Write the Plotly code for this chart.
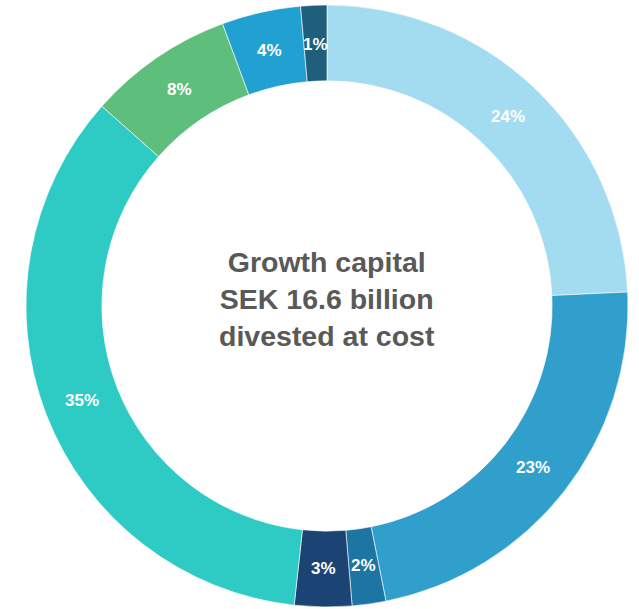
import math
import plotly.graph_objects as go

labels = ["Segment A", "Segment B", "Segment C", "Segment D", "Segment E", "Segment F", "Segment G", "Segment H"]
values = [24.26, 22.60, 1.81, 3.07, 34.81, 7.81, 4.24, 1.40]
colors = ["#a3dcf0", "#309fcb", "#1d75a4", "#1b4373", "#2ecbc5", "#5ebf7d", "#21a1d1", "#1f5f7b"]
center_text = "Growth capital<br>SEK 16.6 billion<br>divested at cost"

W, H = 639, 609
cx, cy_top, R = 327, 306, 301
hole = 0.748
cy = H - cy_top

fig = go.Figure(go.Pie(
    labels=labels,
    values=values,
    hole=hole,
    sort=False,
    direction="clockwise",
    rotation=0,
    marker=dict(colors=colors, line=dict(color="white", width=0.6)),
    textinfo="none",
    hoverinfo="label+percent",
    domain=dict(x=[(cx - R) / W, (cx + R) / W], y=[(cy - R) / H, (cy + R) / H]),
    showlegend=False,
))

# percentage labels at the middle of each ring segment
total = sum(values)
r_mid = R * (1 + hole) / 2 - 1
cum = 0
for v in values:
    ang = 2 * math.pi * (cum + v / 2) / total
    cum += v
    fig.add_annotation(
        x=(cx + r_mid * math.sin(ang)) / W,
        y=(cy + r_mid * math.cos(ang)) / H,
        xref="paper", yref="paper",
        xanchor="center", yanchor="middle",
        text="<b>%.0f%%</b>" % (100 * v / total),
        showarrow=False,
        font=dict(family="Liberation Sans, Arial, sans-serif", size=17, color="white"),
    )

fig.add_annotation(
    x=cx / W, y=(H - 299) / H, xref="paper", yref="paper",
    xanchor="center", yanchor="middle",
    text="<b>" + center_text + "</b>",
    showarrow=False,
    font=dict(family="Liberation Sans, Arial, sans-serif", size=28.5, color="#595959"),
    align="center",
)

fig.update_layout(
    width=W, height=H,
    margin=dict(l=0, r=0, t=0, b=0),
    paper_bgcolor="white",
    plot_bgcolor="white",
)

fig.write_html("out.html", config={"displayModeBar": False},
               post_script="document.body.style.margin='0';")
